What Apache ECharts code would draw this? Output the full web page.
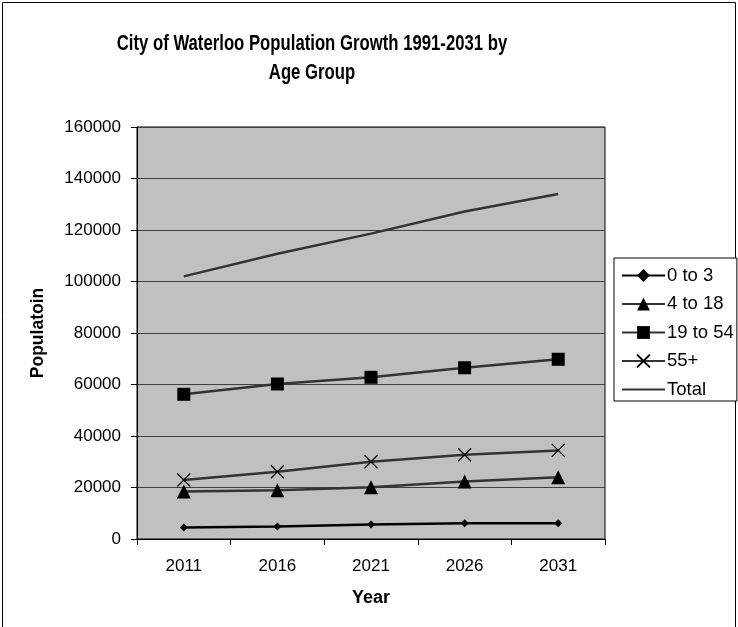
<!DOCTYPE html>
<html>
<head>
<meta charset="utf-8">
<script src="https://cdn.jsdelivr.net/npm/echarts@6/dist/echarts.min.js"></script>
<style>
  html, body { margin: 0; padding: 0; background: #fff; }
  #chart { width: 738px; height: 627px; }
</style>
</head>
<body>
<div id="chart"></div>
<script>
// Projected population by age group, City of Waterloo
const years = ['2011', '2016', '2021', '2026', '2031'];
const age0to3 = [4500, 4900, 5600, 6100, 6100];
const age4to18 = [18400, 18900, 20100, 22300, 24000];
const age19to54 = [56200, 60200, 62800, 66500, 69800];
const age55plus = [22900, 26100, 30000, 32700, 34400];
const total = [102000, 110800, 118600, 127200, 134000];
const titleLines = ['City of Waterloo Population Growth 1991-2031 by', 'Age Group'];

const FONT = '"Liberation Sans", Arial, sans-serif';
const crossPath = 'path://M0,0L10,10M10,0L0,10';

const chart = echarts.init(document.getElementById('chart'), null, { renderer: 'canvas' });

function lineSeries(name, data, color, symbol, size, extra) {
  return Object.assign({
    name: name,
    type: 'line',
    data: data,
    symbol: symbol,
    symbolSize: size,
    showSymbol: symbol !== 'none',
    lineStyle: { color: color, width: 2.5 },
    itemStyle: { color: '#000', borderWidth: 0 },
    emphasis: { disabled: true },
    animation: false,
    z: 3
  }, extra || {});
}

// Condensed bold title lines
function titleText(text, y) {
  return {
    type: 'text',
    x: 312,
    y: y,
    scaleX: 0.76,
    silent: true,
    style: {
      text: text,
      x: 0, y: 0,
      align: 'center',
      verticalAlign: 'middle',
      textAlign: 'center',
      textVerticalAlign: 'middle',
      fontFamily: FONT,
      fontSize: 22,
      fontWeight: 'bold',
      fill: '#000'
    }
  };
}

chart.setOption({
  animation: false,
  textStyle: { fontFamily: FONT },
  graphic: [
    {
      type: 'rect',
      shape: { x: 2.5, y: 2.5, width: 733, height: 660 },
      style: { fill: 'none', stroke: '#000', lineWidth: 1 },
      silent: true,
      z: -10
    },
    titleText(titleLines[0], 44),
    titleText(titleLines[1], 73)
  ],
  grid: {
    left: 137, top: 127, right: 133, bottom: 88,
    show: true,
    backgroundColor: '#C0C0C0',
    borderColor: '#000',
    borderWidth: 1
  },
  legend: {
    orient: 'vertical',
    left: 614,
    top: 258,
    padding: [8, 3, 2, 7],
    itemGap: 9.5,
    itemWidth: 43,
    itemHeight: 16,
    borderColor: '#000',
    borderWidth: 1,
    backgroundColor: '#fff',
    textStyle: { fontFamily: FONT, fontSize: 18.5, color: '#000', padding: [0, 0, 0, -3] },
    data: [
      '0 to 3', '4 to 18', '19 to 54', '55+',
      { name: 'Total', itemStyle: { color: 'rgba(0,0,0,0)', borderWidth: 0 } }
    ]
  },
  xAxis: {
    type: 'category',
    data: years,
    boundaryGap: true,
    name: 'Year',
    nameLocation: 'middle',
    nameGap: 50,
    nameTextStyle: { fontFamily: FONT, fontSize: 18, fontWeight: 'bold', color: '#000' },
    axisLine: { lineStyle: { color: '#000', width: 1 } },
    axisTick: { show: true, length: 6, lineStyle: { color: '#000' } },
    axisLabel: { fontFamily: FONT, fontSize: 17, color: '#000', margin: 19 },
    splitLine: { show: false }
  },
  yAxis: {
    type: 'value',
    min: 0,
    max: 160000,
    interval: 20000,
    name: 'Populatoin',
    nameLocation: 'middle',
    nameRotate: 90,
    nameGap: 90,
    nameTextStyle: { fontFamily: FONT, fontSize: 17.5, fontWeight: 'bold', color: '#000' },
    axisLine: { show: true, lineStyle: { color: '#000', width: 1 } },
    axisTick: { show: true, length: 6, lineStyle: { color: '#000' } },
    axisLabel: { fontFamily: FONT, fontSize: 17, color: '#000', margin: 16, formatter: v => String(v) },
    splitLine: { show: true, lineStyle: { color: '#404040', width: 1 } }
  },
  series: [
    lineSeries('0 to 3', age0to3, '#000', 'diamond', 8),
    lineSeries('4 to 18', age4to18, '#333', 'triangle', 14),
    lineSeries('19 to 54', age19to54, '#333', 'rect', 13),
    lineSeries('55+', age55plus, '#333', crossPath, 13, {
      itemStyle: { color: 'rgba(0,0,0,0)', borderColor: '#000', borderWidth: 1.2 }
    }),
    lineSeries('Total', total, '#333', 'none', 0)
  ]
});
</script>
</body>
</html>
